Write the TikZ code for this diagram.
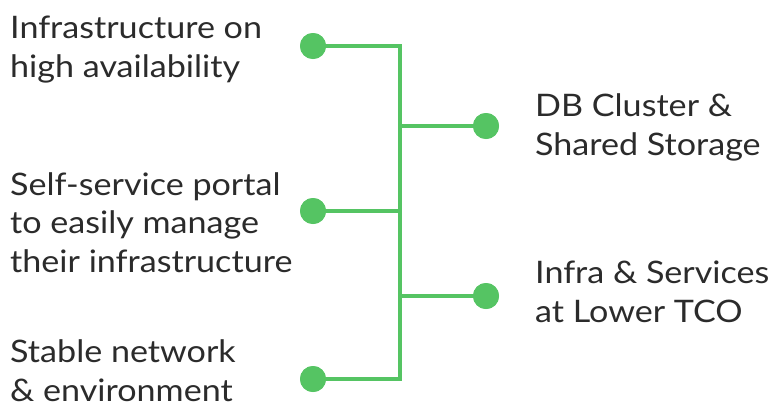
\documentclass[tikz,border=0pt]{standalone}
\usepackage{fontspec}
\setmainfont{Lato}[FakeStretch=1.10]
\definecolor{grn}{HTML}{55C463}
\definecolor{txt}{HTML}{2B2B2B}
\begin{document}
\begin{tikzpicture}[x=1pt,y=-1pt,
  dot/.style={circle,fill=grn,inner sep=0pt,minimum size=26pt},
  lbl/.style={anchor=base west,inner sep=0pt,text=txt,font=\fontsize{31}{38.5}\selectfont,align=left},
  wire/.style={draw=grn,line width=4.5pt}]
\useasboundingbox (0,0) rectangle (775,407);
\node[dot] (a) at (313,46) {};
\node[dot] (b) at (313,211) {};
\node[dot] (c) at (313,379) {};
\node[dot] (d) at (486,126) {};
\node[dot] (e) at (486,296) {};
\coordinate (top) at (400,46);
\coordinate (bot) at (400,379);
\coordinate (jd) at (400,126);
\coordinate (je) at (400,296);
\draw[wire] (a.center) -- (top) -- (bot) -- (c.center);
\draw[wire] (b.center) -- (b.center -| top);
\draw[wire] (jd) -- (d.center);
\draw[wire] (je) -- (e.center);
\node[dot] at (a) {};\node[dot] at (b) {};\node[dot] at (c) {};\node[dot] at (d) {};\node[dot] at (e) {};
\node[lbl] (ta) at (10,77) {Infrastructure on\\high availability};
\node[lbl] (tb) at (10,272) {Self-service portal\\to easily manage\\their infrastructure};
\node[lbl] (tc) at (10,401) {Stable network\\\& environment};
\node[lbl] (td) at (535,155) {DB Cluster \&\\Shared Storage};
\node[lbl] (te) at (535,322) {Infra \& Services\\at Lower TCO};
\end{tikzpicture}
\end{document}
